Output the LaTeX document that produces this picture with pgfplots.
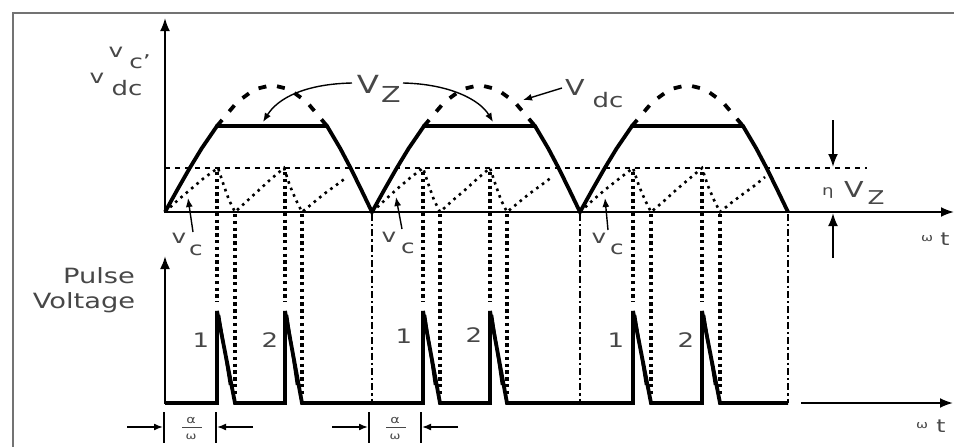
\documentclass[border=0pt]{standalone}
\usepackage{pgfplots}
\pgfplotsset{compat=1.18}
\usepackage{fontspec}
\setmainfont{DejaVu Sans}
\usetikzlibrary{arrows.meta}
\definecolor{txt}{gray}{0.28}
\newcommand{\fs}[1]{\fontsize{#1}{#1}\selectfont}
\begin{document}
\begin{tikzpicture}[
  lbl/.style={anchor=base, inner sep=0pt, xscale=1.3, text=txt},
  arr/.style={-{Latex[length=9pt,width=7pt]}, line width=1.4pt},
  bigarr/.style={-{Latex[length=13pt,width=10pt]}, line width=2pt},
  capdot/.style={line width=2.6pt, dash pattern=on 2.6pt off 4.4pt},
  guide/.style={line width=3.6pt, dash pattern=on 3.4pt off 3.4pt},
]
\begin{axis}[scale only axis, width=954pt, height=447pt,
  xmin=0, xmax=954, ymin=0, ymax=447, y dir=reverse,
  hide axis, clip=false]

% frame
\draw[line width=2.5pt, black!55] (axis cs:13,447) -- (axis cs:13,13) -- (axis cs:954,13);

% axes
\draw[bigarr] (axis cs:165,213) -- (axis cs:165,18);
\draw[bigarr] (axis cs:164,212) -- (axis cs:954,212);
\draw[bigarr, line width=2.2pt] (axis cs:165,404) -- (axis cs:165,256);
\draw[bigarr] (axis cs:801,403) -- (axis cs:953,403);

% eta Vz level
\addplot[line width=1.6pt, dash pattern=on 5pt off 5pt] coordinates {(165,168) (867,168)};

% capacitor voltage (dotted)
\addplot[capdot] coordinates {
(165,212) (178,200) (191,189) (204,178) (218,168) (224,186) (229,200) (235,212)
(247,201) (259,190) (271,179) (284,168) (290,186) (296,200) (302,212)
(313,203) (324,194) (335,186) (347,177)};
\addplot[capdot] coordinates {
(372,212) (385,200) (397,189) (410,178) (423,168) (429,186) (434,200) (440,212)
(452,201) (465,190) (477,179) (490,168) (496,186) (501,200) (507,212)
(518,203) (529,194) (540,186) (552,177)};
\addplot[capdot] coordinates {
(580,212) (593,200) (606,189) (620,178) (633,168) (639,186) (645,200) (651,212)
(664,201) (676,190) (689,179) (702,168) (708,186) (714,200) (720,212)
(731,203) (743,194) (754,186) (765,177)};

% vdc arcs (dashed)
\addplot[line width=3.8pt, dash pattern=on 8pt off 11pt] coordinates {
(217,126) (237.2,102) (254.6,89.3) (272,85) (289.4,89.3) (306.8,102) (327,126)};
\addplot[line width=3.8pt, dash pattern=on 8pt off 11pt] coordinates {
(424,126) (444.4,102) (461.9,89.3) (479.5,85) (497.1,89.3) (514.6,102) (535,126)};
\addplot[line width=3.8pt, dash pattern=on 8pt off 11pt] coordinates {
(632,126) (652.4,102) (669.9,89.3) (687.5,85) (705.1,89.3) (722.6,102) (743,126)};

% clipped supply vz (solid)
\addplot[line width=3.8pt] coordinates {
(165,212) (177.2,190) (189.4,168.6) (201.6,148.5) (217,126) (327,126)
(340.3,148.5) (350.9,168.6) (361.4,190) (372,212)
(384.2,190) (396.4,168.6) (408.6,148.5) (424,126) (535,126)
(548.3,148.5) (558.9,168.6) (569.4,190) (580,212)
(592.2,190) (604.4,168.6) (616.6,148.5) (632,126) (743,126)
(756.3,148.5) (766.9,168.6) (777.4,190) (788,212)};

% pulse voltage
\addplot[line width=3.8pt] coordinates {
(165,403) (217,403) (217,311) (235,403) (285,403) (285,311) (302,403)
(423,403) (423,311) (440,403) (490,403) (490,311) (507,403)
(633,403) (633,311) (651,403) (702,403) (702,311) (720,403) (788,403)};
\addplot[line width=2.5pt] coordinates {(219,315) (230,385)};
\addplot[line width=2.5pt] coordinates {(287,315) (297,385)};
\addplot[line width=2.5pt] coordinates {(425,315) (435,385)};
\addplot[line width=2.5pt] coordinates {(492,315) (502,385)};
\addplot[line width=2.5pt] coordinates {(635,315) (646,385)};
\addplot[line width=2.5pt] coordinates {(704,315) (715,385)};

% vertical dotted guides
\foreach \x in {217,285,423,490,633,702} {
  \edef\tmp{\noexpand\draw[guide] (axis cs:\x,172) -- (axis cs:\x,302);}\tmp
}
\foreach \x in {235,302,440,507,651,720} {
  \edef\tmp{\noexpand\draw[guide] (axis cs:\x,214) -- (axis cs:\x,396);}\tmp
}
\foreach \x in {372,580,788} {
  \edef\tmp{\noexpand\draw[line width=2.4pt, dash pattern=on 7pt off 3pt on 2.4pt off 3pt] (axis cs:\x,214) -- (axis cs:\x,403);}\tmp
}

% annotation arrows
\draw[arr] (axis cs:352,83) .. controls (axis cs:305,84) and (axis cs:278,98) .. (axis cs:263,122);
\draw[arr] (axis cs:403,83) .. controls (axis cs:450,84) and (axis cs:480,100) .. (axis cs:493,122);
\draw[arr] (axis cs:562,88) -- (axis cs:523,100);
\draw[arr] (axis cs:193,232) -- (axis cs:188,198);
\draw[arr] (axis cs:402,229) -- (axis cs:396,197);
\draw[arr] (axis cs:608,230) -- (axis cs:605,198);
\draw[bigarr] (axis cs:833,120) -- (axis cs:833,167);
\draw[bigarr] (axis cs:833,258) -- (axis cs:833,213);

% alpha/omega markers
\draw[line width=2.2pt] (axis cs:164,412) -- (axis cs:164,443);
\draw[line width=2.2pt] (axis cs:216,412) -- (axis cs:216,443);
\draw[arr, line width=1.6pt] (axis cs:127,427) -- (axis cs:163,427);
\draw[arr, line width=1.6pt] (axis cs:253,427) -- (axis cs:217,427);
\draw[line width=2.2pt] (axis cs:369,412) -- (axis cs:369,443);
\draw[line width=2.2pt] (axis cs:421,412) -- (axis cs:421,443);
\draw[arr, line width=1.6pt] (axis cs:332,427) -- (axis cs:368,427);
\draw[arr, line width=1.6pt] (axis cs:458,427) -- (axis cs:422,427);
\node[lbl] at (axis cs:191,423) {\fs{11}α};
\draw[txt, line width=1pt] (axis cs:182,427) -- (axis cs:202,427);
\node[lbl] at (axis cs:191,439) {\fs{10}ω};
\node[lbl] at (axis cs:395,423) {\fs{11}α};
\draw[txt, line width=1pt] (axis cs:386,427) -- (axis cs:406,427);
\node[lbl] at (axis cs:395,439) {\fs{10}ω};

% labels
\node[lbl] at (axis cs:116,57) {\fs{19}v};
\node[lbl] at (axis cs:140,68) {\fs{19}c’};
\node[lbl] at (axis cs:97,83) {\fs{19}v};
\node[lbl] at (axis cs:127,95) {\fs{20}dc};
\node[lbl] at (axis cs:99,283) {\fs{21}Pulse};
\node[lbl] at (axis cs:84,308) {\fs{21}Voltage};
\node[lbl] at (axis cs:368,93) {\fs{25}V};
\node[lbl] at (axis cs:391,102) {\fs{22}Z};
\node[lbl] at (axis cs:575,95) {\fs{22}V};
\node[lbl] at (axis cs:608,107) {\fs{20}dc};
\node[lbl] at (axis cs:828,195) {\fs{14}η};
\node[lbl] at (axis cs:854,197) {\fs{22}V};
\node[lbl] at (axis cs:876,204) {\fs{19}Z};
\node[lbl] at (axis cs:179,243) {\fs{19}v};
\node[lbl] at (axis cs:196,255) {\fs{19}c};
\node[lbl] at (axis cs:389,242) {\fs{19}v};
\node[lbl] at (axis cs:408,253) {\fs{19}c};
\node[lbl] at (axis cs:599,243) {\fs{19}v};
\node[lbl] at (axis cs:617,254) {\fs{19}c};
\node[lbl] at (axis cs:201,347) {\fs{20}1};
\node[lbl] at (axis cs:270,347) {\fs{20}2};
\node[lbl] at (axis cs:404,343) {\fs{20}1};
\node[lbl] at (axis cs:474,342) {\fs{20}2};
\node[lbl] at (axis cs:616,347) {\fs{20}1};
\node[lbl] at (axis cs:686,347) {\fs{20}2};
\node[lbl] at (axis cs:927,241) {\fs{11}ω};
\node[lbl] at (axis cs:945,245) {\fs{18}t};
\node[lbl] at (axis cs:922,428) {\fs{11}ω};
\node[lbl] at (axis cs:941,432) {\fs{18}t};

\coordinate (SW) at (axis cs:0,447);
\coordinate (NE) at (axis cs:954,0);
\end{axis}
\pgfresetboundingbox
\path[use as bounding box] (SW) rectangle (NE);
\end{tikzpicture}
\end{document}
